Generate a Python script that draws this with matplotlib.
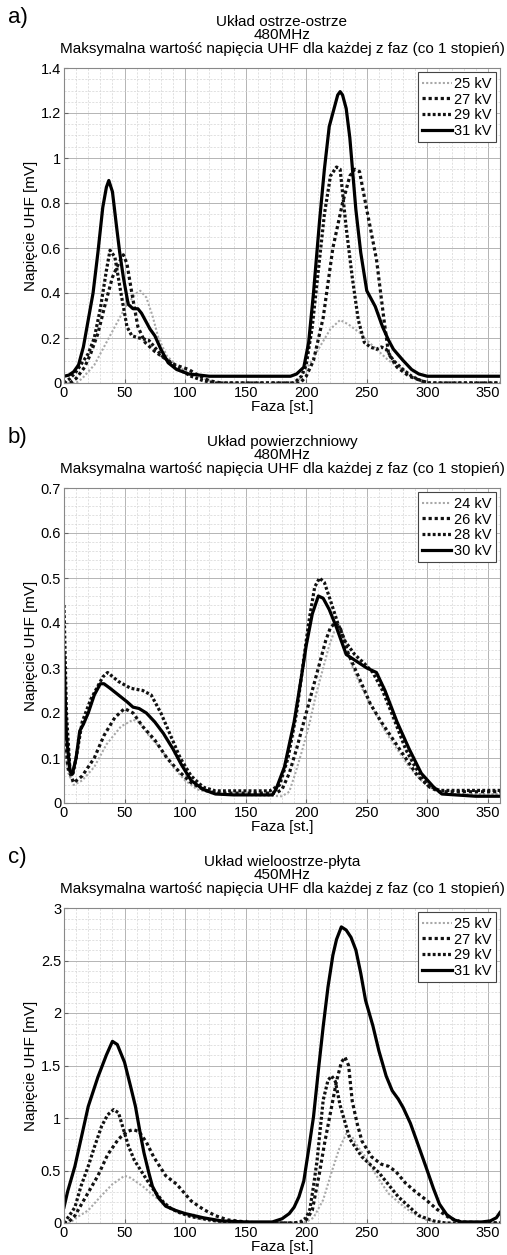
import matplotlib
matplotlib.use("Agg")
import matplotlib.pyplot as plt
from matplotlib.ticker import MultipleLocator, FormatStrFormatter

plt.rcParams['font.family'] = ['Liberation Sans', 'DejaVu Sans']

# --- a) Układ ostrze-ostrze, 480MHz ---
a_labels = ['25 kV', '27 kV', '29 kV', '31 kV']
a25_x = [0, 10, 15, 25, 35, 45, 52, 60, 63, 68, 73, 78, 85, 95, 105, 115, 125, 190, 195, 200, 210, 220, 228, 235, 245, 250, 258, 268, 280, 290, 298, 360]
a25_y = [0, 0, 0.02, 0.08, 0.18, 0.28, 0.35, 0.40, 0.41, 0.38, 0.30, 0.20, 0.12, 0.07, 0.04, 0.02, 0.0, 0.0, 0.02, 0.06, 0.15, 0.24, 0.28, 0.26, 0.22, 0.19, 0.15, 0.10, 0.06, 0.02, 0.0, 0.0]
a27_x = [0, 5, 10, 17, 22, 28, 34, 40, 45, 49, 52, 56, 61, 67, 75, 83, 92, 103, 112, 120, 130, 195, 200, 206, 214, 222, 230, 236, 240, 244, 250, 258, 264, 268, 275, 285, 300, 360]
a27_y = [0.0, 0.0, 0.02, 0.07, 0.13, 0.22, 0.35, 0.47, 0.53, 0.57, 0.53, 0.40, 0.25, 0.18, 0.14, 0.11, 0.08, 0.06, 0.03, 0.01, 0.0, 0.0, 0.03, 0.10, 0.29, 0.60, 0.80, 0.92, 0.95, 0.94, 0.77, 0.55, 0.29, 0.13, 0.07, 0.03, 0.0, 0.0]
a29_x = [0, 5, 10, 15, 20, 25, 30, 35, 38, 42, 47, 52, 56, 62, 70, 81, 88, 95, 105, 115, 125, 190, 196, 200, 205, 210, 215, 220, 225, 228, 233, 238, 243, 248, 253, 258, 262, 266, 272, 280, 287, 295, 302, 360]
a29_y = [0.0, 0.02, 0.05, 0.09, 0.13, 0.2, 0.33, 0.5, 0.59, 0.56, 0.40, 0.25, 0.21, 0.20, 0.19, 0.12, 0.09, 0.06, 0.03, 0.01, 0.0, 0.0, 0.03, 0.08, 0.25, 0.5, 0.75, 0.92, 0.96, 0.95, 0.69, 0.47, 0.28, 0.18, 0.16, 0.15, 0.16, 0.15, 0.10, 0.06, 0.03, 0.01, 0.0, 0.0]
a31_x = [0, 4, 8, 12, 16, 20, 24, 28, 32, 35, 37, 40, 43.5, 46, 49, 53, 57, 61, 64, 67, 71, 75, 80, 86, 93, 103, 112, 120, 187, 192, 198, 202, 206, 211, 215, 219, 223, 226, 228, 230, 233, 236, 241, 245, 250, 257, 263, 268, 272, 280, 287, 293, 300, 360]
a31_y = [0.03, 0.035, 0.05, 0.08, 0.16, 0.28, 0.4, 0.58, 0.78, 0.87, 0.9, 0.85, 0.69, 0.58, 0.47, 0.35, 0.33, 0.33, 0.31, 0.28, 0.24, 0.21, 0.15, 0.09, 0.06, 0.04, 0.035, 0.03, 0.03, 0.04, 0.07, 0.18, 0.40, 0.72, 0.95, 1.14, 1.22, 1.28, 1.295, 1.28, 1.22, 1.09, 0.77, 0.58, 0.41, 0.34, 0.25, 0.19, 0.15, 0.1, 0.06, 0.04, 0.03, 0.03]

# --- b) Układ powierzchniowy, 480MHz ---
b_labels = ['24 kV', '26 kV', '28 kV', '30 kV']
b24_x = [0, 3, 8, 15, 25, 35, 47, 57, 62, 70, 80, 90, 100, 110, 125, 180, 186, 191, 197, 203, 208, 213, 219, 223, 227, 231, 237, 245, 255, 265, 275, 285, 295, 305, 315, 360]
b24_y = [0.15, 0.07, 0.04, 0.05, 0.08, 0.13, 0.17, 0.185, 0.18, 0.15, 0.12, 0.08, 0.05, 0.03, 0.02, 0.015, 0.025, 0.066, 0.12, 0.18, 0.24, 0.29, 0.35, 0.38, 0.385, 0.37, 0.31, 0.26, 0.21, 0.16, 0.12, 0.08, 0.05, 0.03, 0.02, 0.02]
b26_x = [0, 3, 8, 15, 25, 33, 42, 50, 57, 65, 75, 85, 95, 105, 115, 125, 175, 180, 186, 192, 198, 204, 210, 216, 220, 224, 228, 235, 245, 253, 262, 272, 282, 292, 302, 310, 360]
b26_y = [0.2, 0.08, 0.045, 0.06, 0.1, 0.15, 0.19, 0.21, 0.2, 0.17, 0.14, 0.1, 0.07, 0.045, 0.03, 0.022, 0.022, 0.03, 0.066, 0.12, 0.18, 0.24, 0.3, 0.36, 0.39, 0.40, 0.39, 0.33, 0.27, 0.22, 0.18, 0.14, 0.10, 0.06, 0.035, 0.025, 0.025]
b28_x = [0, 2, 5, 7, 10, 15, 22, 32, 36, 45, 55, 65, 72, 80, 88, 96, 105, 115, 125, 170, 178, 185, 192, 197, 202, 207, 211, 215, 220, 226, 232, 240, 248, 255, 263, 272, 282, 290, 300, 310, 360]
b28_y = [0.44, 0.2, 0.07, 0.06, 0.1, 0.18, 0.23, 0.28, 0.29, 0.27, 0.255, 0.25, 0.24, 0.2, 0.15, 0.1, 0.06, 0.035, 0.027, 0.027, 0.04, 0.1, 0.2, 0.3, 0.4, 0.48, 0.5, 0.49, 0.45, 0.4, 0.36, 0.33, 0.31, 0.29, 0.25, 0.19, 0.12, 0.08, 0.04, 0.028, 0.028]
b30_x = [0, 2, 5, 7, 10, 13, 16, 20, 25, 30, 33, 38, 45, 52, 57, 62, 68, 75, 82, 90, 97, 105, 115, 125, 140, 172, 175, 182, 190, 196, 200, 205, 210, 214, 219, 225, 233, 250, 258, 265, 275, 285, 295, 305, 312, 340, 360]
b30_y = [0.33, 0.15, 0.07, 0.065, 0.1, 0.16, 0.175, 0.2, 0.24, 0.265, 0.265, 0.255, 0.24, 0.225, 0.213, 0.21, 0.2, 0.18, 0.155, 0.12, 0.085, 0.05, 0.03, 0.02, 0.018, 0.018, 0.03, 0.08, 0.18, 0.28, 0.35, 0.42, 0.46, 0.455, 0.43, 0.39, 0.33, 0.30, 0.29, 0.25, 0.18, 0.12, 0.066, 0.036, 0.02, 0.015, 0.015]

# --- c) Układ wieloostrze-płyta, 450MHz ---
c_labels = ['25 kV', '27 kV', '29 kV', '31 kV']
c25_x = [0, 5, 10, 20, 30, 40, 50, 55, 65, 75, 88, 100, 115, 130, 195, 200, 206, 214, 220, 227, 233, 238, 243, 249, 258, 268, 278, 287, 299, 310, 320, 360]
c25_y = [0, 0, 0.05, 0.12, 0.25, 0.37, 0.45, 0.43, 0.35, 0.25, 0.15, 0.08, 0.03, 0.01, 0, 0.01, 0.05, 0.22, 0.45, 0.7, 0.85, 0.82, 0.72, 0.63, 0.45, 0.28, 0.18, 0.1, 0.03, 0.01, 0, 0]
c27_x = [0, 3, 9, 20, 28, 36, 45, 52, 57, 62, 68, 74, 84, 93, 105, 115, 125, 135, 150, 160, 195, 200, 205, 211, 215, 220, 225, 229, 232, 235, 238, 242, 246, 254, 262, 268, 274, 282, 290, 299, 308, 318, 328, 360]
c27_y = [0, 0, 0.07, 0.29, 0.45, 0.65, 0.8, 0.87, 0.89, 0.87, 0.77, 0.63, 0.45, 0.37, 0.21, 0.13, 0.07, 0.03, 0.01, 0, 0, 0.03, 0.12, 0.48, 0.75, 1.05, 1.35, 1.53, 1.58, 1.5, 1.16, 0.95, 0.78, 0.63, 0.56, 0.54, 0.49, 0.38, 0.3, 0.22, 0.13, 0.05, 0.01, 0]
c29_x = [0, 5, 9, 14, 20, 25, 31, 36, 41, 45, 53, 58, 64, 69, 75, 82, 88, 95, 105, 115, 125, 140, 190, 195, 200, 203, 206, 209, 214, 218, 221, 224, 228, 236, 246, 260, 276, 293, 305, 315, 360]
c29_y = [0, 0.08, 0.15, 0.35, 0.54, 0.72, 0.92, 1.03, 1.08, 1.05, 0.74, 0.6, 0.49, 0.4, 0.3, 0.2, 0.14, 0.1, 0.06, 0.04, 0.02, 0.005, 0.0, 0.01, 0.05, 0.13, 0.35, 0.6, 1.17, 1.36, 1.4, 1.35, 1.12, 0.8, 0.63, 0.48, 0.25, 0.07, 0.02, 0.0, 0.0]
c31_x = [0, 3, 9, 15, 20, 28, 35, 40, 44, 50, 55, 59, 63, 66, 70, 73, 78, 84, 92, 100, 115, 130, 150, 172, 180, 186, 190, 194, 198, 202, 206, 210, 214, 218, 222, 225, 229, 233, 237, 241, 245, 249, 255, 260, 266, 271, 276, 280, 286, 291, 295, 299, 305, 310, 316, 322, 328, 345, 352, 357, 360]
c31_y = [0.15, 0.3, 0.54, 0.85, 1.11, 1.39, 1.6, 1.73, 1.7, 1.53, 1.3, 1.11, 0.85, 0.67, 0.48, 0.35, 0.24, 0.16, 0.12, 0.09, 0.05, 0.02, 0.01, 0.01, 0.04, 0.09, 0.15, 0.25, 0.4, 0.7, 1.01, 1.45, 1.87, 2.25, 2.55, 2.7, 2.82, 2.79, 2.72, 2.6, 2.38, 2.12, 1.88, 1.64, 1.4, 1.26, 1.18, 1.1, 0.95, 0.79, 0.66, 0.53, 0.33, 0.18, 0.08, 0.03, 0.01, 0.01, 0.02, 0.05, 0.1]

panels = [
    ('a)', 'Układ ostrze-ostrze', '480MHz', a_labels,
     [(a25_x, a25_y), (a27_x, a27_y), (a29_x, a29_y), (a31_x, a31_y)], 1.4, 0.2, 0.05),
    ('b)', 'Układ powierzchniowy', '480MHz', b_labels,
     [(b24_x, b24_y), (b26_x, b26_y), (b28_x, b28_y), (b30_x, b30_y)], 0.7, 0.1, 0.02),
    ('c)', 'Układ wieloostrze-płyta', '450MHz', c_labels,
     [(c25_x, c25_y), (c27_x, c27_y), (c29_x, c29_y), (c31_x, c31_y)], 3.0, 0.5, 0.1),
]

styles = [
    dict(color='#a8a8a8', lw=1.5, ls=(0, (1, 1))),
    dict(color='#111111', lw=2.3, ls=(0, (1, 0.9))),
    dict(color='#111111', lw=2.3, ls=(0, (0.9, 0.7))),
    dict(color='#000000', lw=2.3, ls='-'),
]

W, H = 507, 1255
fig = plt.figure(figsize=(W / 100, H / 100), dpi=100)

tops = [68, 488, 908]
for (tag, name, freq, labels, series, ymax, ymaj, ymin), top in zip(panels, tops):
    ax = fig.add_axes([64 / W, 1 - (top + 315) / H, 436 / W, 315 / H])
    for (x, y), lab, st in zip(series, labels, styles):
        ax.plot(x, y, label=lab, **st)
    ax.set_xlim(0, 360)
    ax.set_ylim(0, ymax)
    ax.xaxis.set_major_locator(MultipleLocator(50))
    ax.xaxis.set_minor_locator(MultipleLocator(10))
    ax.yaxis.set_major_locator(MultipleLocator(ymaj))
    ax.yaxis.set_minor_locator(MultipleLocator(ymin))
    ax.yaxis.set_major_formatter(FormatStrFormatter('%g'))
    ax.grid(which='major', color='#b4b4b4', lw=0.7, ls='-')
    ax.grid(which='minor', color='#d4d4d4', lw=0.5, ls=(0, (3, 2)))
    ax.set_axisbelow(True)
    ax.tick_params(which='both', direction='in', labelsize=10.5, length=3, color='#666666', pad=2)
    ax.tick_params(which='minor', length=0)
    for sp in ax.spines.values():
        sp.set_color('#888888')
        sp.set_linewidth(0.8)
    ax.set_xlabel('Faza [st.]', fontsize=11, labelpad=0)
    ax.set_ylabel('Napięcie UHF [mV]', fontsize=11, labelpad=2)
    ax.set_title(name + '\n' + freq + '\nMaksymalna wartość napięcia UHF dla każdej z faz (co 1 stopień)',
                 fontsize=11, pad=11, linespacing=0.95)
    leg = ax.legend(loc='upper right', fontsize=10.5, handlelength=2.0, handletextpad=0.15,
                    borderpad=0.3, labelspacing=0.12, borderaxespad=0.3, fancybox=False,
                    framealpha=1)
    leg.get_frame().set_edgecolor('#444444')
    leg.get_frame().set_linewidth(0.8)
    fig.text(8 / W, 1 - (top - 50) / H, tag, fontsize=16, va='center', ha='left')

fig.savefig('out.png', dpi=100)
